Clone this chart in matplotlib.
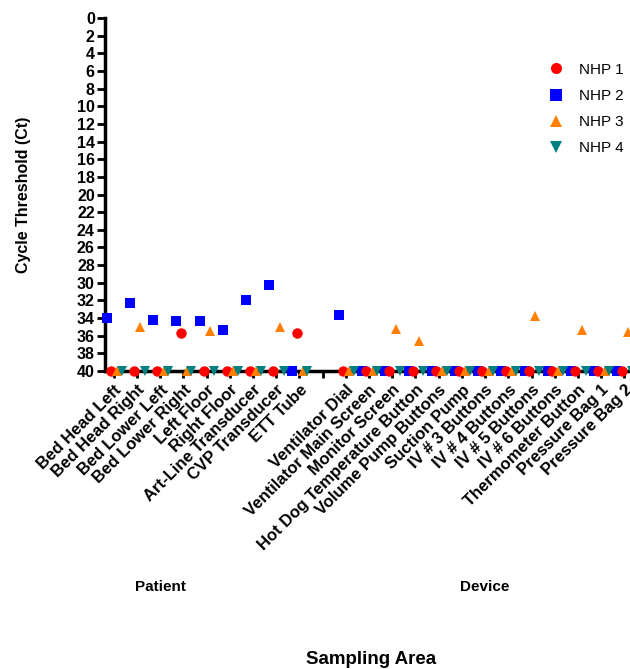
import numpy as np
import matplotlib
matplotlib.use("Agg")
import matplotlib.pyplot as plt
from matplotlib.lines import Line2D

plt.rcParams['font.family'] = ['Liberation Sans', 'DejaVu Sans']

# ---------- data ----------
patient_areas = ["Bed Head Left", "Bed Head Right", "Bed Lower Left", "Bed Lower Right",
                 "Left Floor", "Right Floor", "Art-Line Transducer", "CVP Transducer", "ETT Tube"]
device_areas = ["Ventilator Dial", "Ventilator Main Screen", "Monitor Screen",
                "Hot Dog Temperature Button", "Volume Pump Buttons", "Suction Pump",
                "IV # 3 Buttons", "IV # 4 Buttons", "IV # 5 Buttons", "IV # 6 Buttons",
                "Thermometer Button", "Pressure Bag 1", "Pressure Bag 2"]

nhp1_patient = [40, 40, 40, 35.7, 40, 40, 40, 40, 35.7]
nhp2_patient = [34.0, 32.3, 34.2, 34.3, 34.3, 35.4, 32.0, 30.2, 40]
nhp3_patient = [40, 35.0, 40, 40, 35.5, 40, 40, 35.0, 40]
nhp4_patient = [40, 40, 40, 40, 40, 40, 40, 40, 40]

nhp1_device = [40, 40, 40, 40, 40, 40, 40, 40, 40, 40, 40, 40, 40]
nhp2_device = [33.6, 40, 40, 40, 40, 40, 40, 40, 40, 40, 40, 40, 40]
nhp3_device = [40, 40, 35.2, 36.6, 40, 40, 40, 40, 33.8, 40, 35.35, 40, 35.6]
nhp4_device = [40, 40, 40, 40, 40, 40, 40, 40, 40, 40, 40, 40, 40]

# ---------- layout ----------
labels = patient_areas + [""] + device_areas
pos_patient = np.arange(len(patient_areas))
pos_device = np.arange(len(device_areas)) + len(patient_areas) + 1
positions = np.arange(len(labels))

fig = plt.figure(figsize=(6.3, 6.69), dpi=100)
ax = fig.add_axes([0.166, 0.4454, 0.851, 0.5277])

# drawn in this order so red sits over blue, teal over orange
series = [
    ("NHP 2", nhp2_patient, nhp2_device, "s", "#0000ff", -0.3),
    ("NHP 1", nhp1_patient, nhp1_device, "o", "#ff0000", -0.12),
    ("NHP 3", nhp3_patient, nhp3_device, "^", "#ff8000", 0.15),
    ("NHP 4", nhp4_patient, nhp4_device, "v", "#008080", 0.34),
]
for name, pv, dv, mk, col, off in series:
    ax.plot(np.concatenate([pos_patient, pos_device]) + off, pv + dv,
            linestyle="none", marker=mk, color=col, markersize=7.5,
            markeredgewidth=0, clip_on=False, zorder=5)

ax.set_ylim(40, 0)
ax.set_yticks(np.arange(0, 41, 2))
ax.set_xlim(-0.39, 22.7)
ax.set_xticks(positions)
ax.set_xticklabels(labels, rotation=45, ha="right", rotation_mode="anchor",
                   fontsize=12, fontweight="bold")
for lab in ax.get_yticklabels():
    lab.set_fontweight("bold")
    lab.set_fontsize(11.5)

ax.spines["top"].set_visible(False)
ax.spines["right"].set_visible(False)
ax.spines["left"].set_linewidth(2.5)
ax.spines["bottom"].set_linewidth(2.5)
ax.tick_params(axis="y", length=6, width=2, pad=1)
ax.tick_params(axis="x", length=5, width=2, pad=3)

ax.set_ylabel("Cycle Threshold (Ct)", fontsize=11.5, fontweight="bold")
ax.yaxis.set_label_coords(-0.137, 0.5)

fig.text(160 / 630, 1 - 587 / 669, "Patient", ha="center", va="center",
         fontsize=11, fontweight="bold")
fig.text(485 / 630, 1 - 587 / 669, "Device", ha="center", va="center",
         fontsize=11, fontweight="bold")
fig.text(371 / 630, 1 - 659 / 669, "Sampling Area", ha="center", va="center",
         fontsize=13.5, fontweight="bold")

handles = [Line2D([], [], linestyle="none", marker=s[3], color=s[4], markersize=8,
                  markeredgewidth=0) for s in [series[1], series[0], series[2], series[3]]]
ax.legend(handles, ["NHP 1", "NHP 2", "NHP 3", "NHP 4"], loc="upper left",
          bbox_to_anchor=(541 / 630, 1 - 55 / 669), bbox_transform=fig.transFigure,
          frameon=False, fontsize=11, labelspacing=0.8, handletextpad=1.0,
          handlelength=1.0, borderpad=0)

fig.savefig("out.png", dpi=100)
